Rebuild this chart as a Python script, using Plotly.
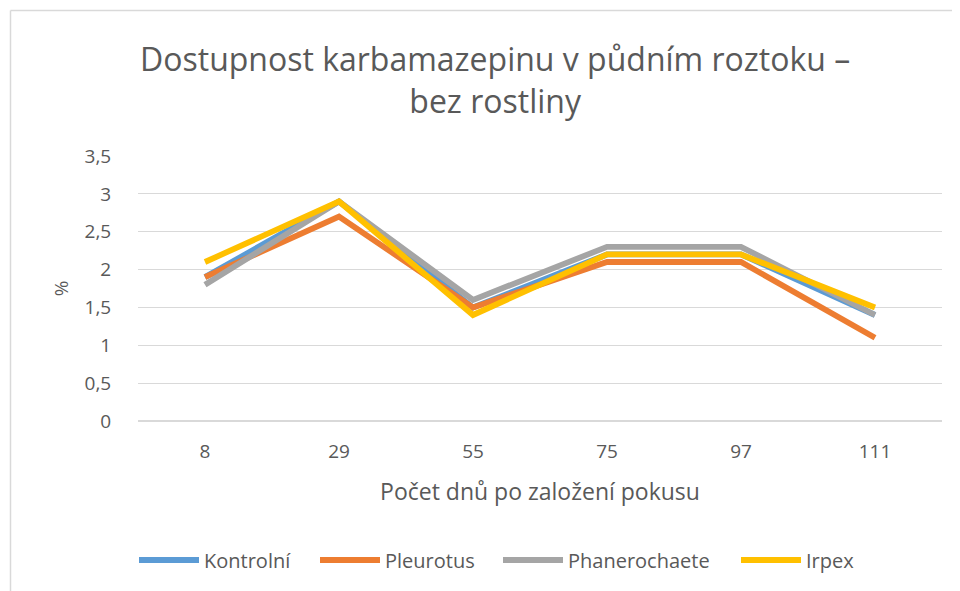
import plotly.graph_objects as go

days = ["8", "29", "55", "75", "97", "111"]
kontrolni = [1.9, 2.9, 1.5, 2.2, 2.2, 1.4]
pleurotus = [1.9, 2.7, 1.5, 2.1, 2.1, 1.1]
phanerochaete = [1.8, 2.9, 1.6, 2.3, 2.3, 1.4]
irpex = [2.1, 2.9, 1.4, 2.2, 2.2, 1.5]

series_names = ["Kontrolní", "Pleurotus", "Phanerochaete", "Irpex"]
series_values = [kontrolni, pleurotus, phanerochaete, irpex]
colors = ["#5B9BD5", "#ED7D31", "#A5A5A5", "#FFC000"]

OFF = 8  # page body margin
W, H = 952, 583
L, R, T, B = 130, 18, 148, 170
pw = W - L - R
ph = H - T - B

FONT = "Open Sans"
TXT = "#595959"

def px(sx):
    return (sx - OFF - L) / pw

def py(sy):
    return (H - B - (sy - OFF)) / ph

legend_ids = ["legend", "legend2", "legend3", "legend4"]
legend_line_starts = [140, 321, 504, 742]

fig = go.Figure()
for name, vals, c, lid in zip(series_names, series_values, colors, legend_ids):
    fig.add_trace(go.Scatter(x=days, y=vals, mode="lines", name=name, legend=lid,
                             line=dict(color=c, width=5.8)))

legend_layout = {}
for lid, sx in zip(legend_ids, legend_line_starts):
    legend_layout[lid] = dict(orientation="h", x=px(sx - 6), y=py(560), xanchor="left", yanchor="middle",
                              font=dict(size=20, color=TXT), itemwidth=60,
                              bgcolor="rgba(0,0,0,0)")

fig.update_layout(
    width=W, height=H,
    margin=dict(l=L, r=R, t=T, b=B),
    paper_bgcolor="white", plot_bgcolor="white",
    separators=", ",
    font=dict(family=FONT, color=TXT, size=19),
    showlegend=True,
    annotations=[
        dict(text="Dostupnost karbamazepinu v půdním roztoku –<br>bez rostliny",
             xref="paper", yref="paper", x=px(495), y=py(79), xanchor="center", yanchor="middle",
             showarrow=False, font=dict(size=32, color=TXT, family=FONT), align="center"),
    ],
    shapes=[
        dict(type="line", xref="paper", yref="paper", x0=px(10.5), x1=px(970), y0=py(10.5), y1=py(10.5),
             line=dict(color="#D9D9D9", width=1.5)),
        dict(type="line", xref="paper", yref="paper", x0=px(10.5), x1=px(10.5), y0=py(10.5), y1=py(600),
             line=dict(color="#D9D9D9", width=1.5)),
    ],
    **legend_layout,
)

fig.update_xaxes(type="category", showgrid=False, showline=False, zeroline=False,
                 ticks="outside", ticklen=13, tickcolor="rgba(0,0,0,0)",
                 tickfont=dict(size=19, color=TXT),
                 title=dict(text="Počet dnů po založení pokusu", font=dict(size=23, color=TXT), standoff=21),
                 range=[-0.5, 5.5])
fig.update_yaxes(range=[0, 3.5], dtick=0.5, tick0=0, showgrid=True, gridcolor="#D9D9D9", gridwidth=1,
                 zeroline=True, zerolinecolor="#D9D9D9", zerolinewidth=1.5, showline=False,
                 ticks="outside", ticklen=22, tickcolor="rgba(0,0,0,0)",
                 tickfont=dict(size=19, color=TXT),
                 title=dict(text="%", font=dict(size=19, color=TXT), standoff=10))

fig.write_html("out.html")
